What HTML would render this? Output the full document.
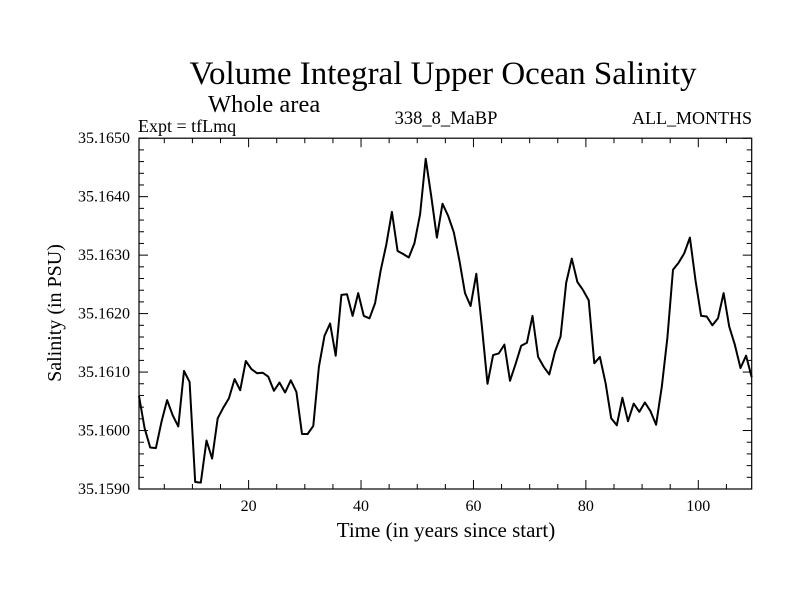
<!DOCTYPE html>
<html><head><meta charset="utf-8"><style>
html,body{margin:0;padding:0;background:#fff;}
svg{display:block;font-family:"Liberation Serif",serif;}
</style></head><body>
<svg id="chart" width="800" height="600" viewBox="0 0 800 600">
<text x="443" y="84" font-size="33" text-anchor="middle">Volume Integral Upper Ocean Salinity</text>
<text x="208" y="112" font-size="24.5">Whole area</text>
<text x="138" y="132" font-size="18">Expt = tfLmq</text>
<text x="446" y="124" font-size="18.5" text-anchor="middle">338_8_MaBP</text>
<text x="752" y="124" font-size="18" text-anchor="end">ALL_MONTHS</text>
<text x="446" y="537" font-size="21" text-anchor="middle">Time (in years since start)</text>
<text transform="translate(61,313) rotate(-90)" font-size="20" text-anchor="middle">Salinity (in PSU)</text>
<g id="axes"></g>
<path id="line" fill="none" stroke="#000" stroke-width="2" stroke-linejoin="round"/>
<rect x="139" y="138.2" width="612.7" height="350.8" fill="none" stroke="#000" stroke-width="1.2"/>
</svg>
<script>
const deltas = [15.9,10.4,7.1,7.0,11.5,15.2,12.6,10.7,20.2,18.3,1.2,1.1,8.3,5.2,12.1,13.9,15.5,18.8,16.9,21.9,20.5,19.8,19.9,19.2,16.8,18.2,16.5,18.6,16.6,9.4,9.4,10.8,20.9,26.2,28.3,22.8,33.2,33.3,29.6,33.5,29.6,29.2,31.8,37.4,41.8,47.4,40.7,40.2,39.6,42.0,47.0,56.5,50.0,43.0,48.8,46.7,43.9,
39.1,33.5,31.3,36.8,27.8,18.0,22.9,23.2,24.7,18.5,21.4,24.5,25.0,29.6,22.6,20.9,19.6,23.5,26.1,35.3,39.4,35.4,34.0,32.3,21.5,22.6,18.1,12.1,10.9,15.6,11.6,14.6,13.2,14.8,13.3,11.0,17.5,25.9,37.5,38.7,40.3,43.0,35.7,29.6,29.5,28.0,29.2,33.5,27.8,24.7,20.7,22.8,19.1];
const salinity = deltas.map(d => 35.159 + d * 1e-4);
const years = salinity.map((_, i) => i + 0.5);
const xTicks = [20, 40, 60, 80, 100];
const yTicks = [35.159, 35.160, 35.161, 35.162, 35.163, 35.164, 35.165];
const yTickLabels = ["35.1590","35.1600","35.1610","35.1620","35.1630","35.1640","35.1650"];

const X0 = 139, X1 = 751.7, Y0 = 489, Y1 = 138.2;
const xMin = 0.5, xMax = 109.5, yMin = 35.159, yMax = 35.165;
const sx = v => X0 + (v - xMin) / (xMax - xMin) * (X1 - X0);
const sy = v => Y0 - (v - yMin) / (yMax - yMin) * (Y0 - Y1);
const NS = "http://www.w3.org/2000/svg";
const axes = document.getElementById('axes');
function line(x1,y1,x2,y2,name){
  const l = document.createElementNS(NS,'line');
  l.setAttribute('x1',x1);l.setAttribute('y1',y1);l.setAttribute('x2',x2);l.setAttribute('y2',y2);
  l.setAttribute('stroke','#000');l.setAttribute('stroke-width','1');
  
  
  axes.appendChild(l);
}
function text(x,y,s,anchor,name){
  const t = document.createElementNS(NS,'text');
  t.setAttribute('x',x);t.setAttribute('y',y);t.setAttribute('font-size','16');t.setAttribute('text-anchor',anchor);
  t.textContent = s;
  
  
  axes.appendChild(t);
}
for (let v = 5; v < xMax; v += 5) {
  const major = v % 20 === 0, len = major ? 9 : 5, x = sx(v);
  line(x, Y0, x, Y0 - len, 'x-tick');
  line(x, Y1, x, Y1 + len, 'x-tick-top');
}
xTicks.forEach(v => text(sx(v), 511, String(v), 'middle', 'x-tick-label'));
for (let k = 0; k <= 30; k++) {
  const v = yMin + k * 0.0002, major = k % 5 === 0, len = major ? 9 : 5, y = sy(v);
  line(X0, y, X0 + len, y, 'y-tick');
  line(X1, y, X1 - len, y, 'y-tick-right');
}
yTicks.forEach((v, i) => text(130, sy(v) + 5, yTickLabels[i], 'end', 'y-tick-label'));
document.getElementById('line').setAttribute('d',
  salinity.map((v, i) => (i ? 'L' : 'M') + sx(years[i]).toFixed(1) + ',' + sy(v).toFixed(1)).join(''));
</script>
</body></html>
